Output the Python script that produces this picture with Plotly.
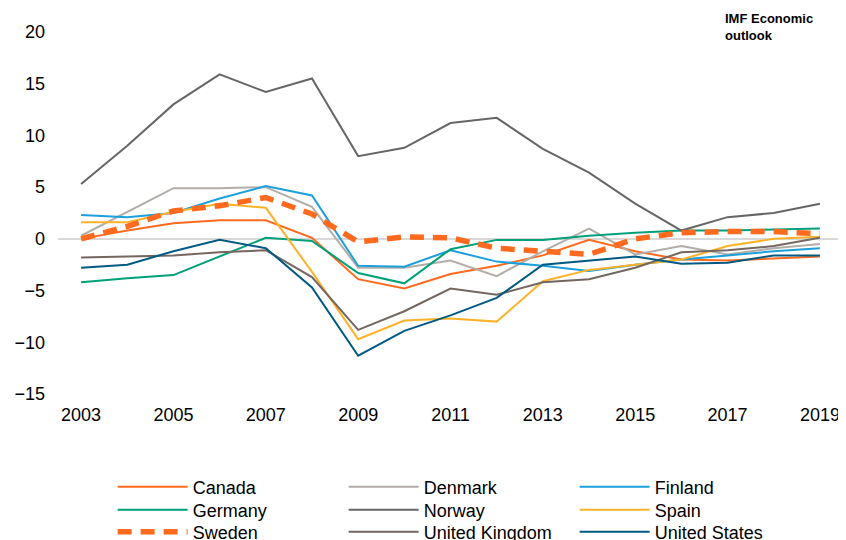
import plotly.graph_objects as go

years = list(range(2003, 2020))
canada = [0.0, 0.8, 1.5, 1.8, 1.8, 0.1, -3.9, -4.8, -3.4, -2.6, -1.6, -0.1, -1.2, -2.0, -2.1, -1.9, -1.7]
denmark = [0.3, 2.6, 4.9, 4.9, 5.0, 3.1, -2.8, -2.8, -2.1, -3.6, -1.2, 1.0, -1.5, -0.7, -1.5, -0.9, -0.5]
finland = [2.3, 2.1, 2.5, 3.9, 5.1, 4.2, -2.6, -2.7, -1.1, -2.2, -2.6, -3.1, -2.5, -2.0, -1.6, -1.2, -0.9]
germany = [-4.2, -3.8, -3.5, -1.7, 0.1, -0.2, -3.3, -4.3, -1.0, -0.1, -0.1, 0.3, 0.6, 0.8, 0.8, 0.9, 1.0]
norway = [5.3, 9.0, 13.0, 15.9, 14.2, 15.5, 8.0, 8.8, 11.2, 11.7, 8.7, 6.4, 3.4, 0.8, 2.1, 2.5, 3.4]
spain = [1.6, 1.6, 2.6, 3.4, 3.0, -3.2, -9.7, -7.9, -7.7, -8.0, -4.1, -3.0, -2.5, -2.0, -0.7, 0.0, 0.2]
sweden = [0.0, 1.2, 2.7, 3.2, 4.0, 2.4, -0.3, 0.2, 0.1, -0.9, -1.2, -1.5, 0.0, 0.6, 0.7, 0.7, 0.5]
uk = [-1.8, -1.7, -1.6, -1.3, -1.1, -3.7, -8.8, -7.0, -4.8, -5.4, -4.2, -3.9, -2.8, -1.3, -1.1, -0.7, 0.1]
us = [-2.8, -2.5, -1.2, -0.1, -0.9, -4.7, -11.3, -8.9, -7.4, -5.7, -2.5, -2.1, -1.7, -2.4, -2.3, -1.6, -1.6]

x_ticks = [2003, 2005, 2007, 2009, 2011, 2013, 2015, 2017, 2019]
y_ticks = [-15, -10, -5, 0, 5, 10, 15, 20]

series = [
    ("Canada", canada, "#FF6A1F", 2, None, "legend"),
    ("Denmark", denmark, "#B3ADA8", 2, None, "legend"),
    ("Finland", finland, "#1BA0DC", 2, None, "legend"),
    ("Germany", germany, "#00A07A", 2, None, "legend2"),
    ("Norway", norway, "#666666", 2, None, "legend2"),
    ("Spain", spain, "#FDB22A", 2, None, "legend2"),
    ("Sweden", sweden, "#FF6A1F", 5.5, "14px,9px", "legend3"),
    ("United Kingdom", uk, "#736760", 2, None, "legend3"),
    ("United States", us, "#005A82", 2, None, "legend3"),
]

fig = go.Figure()
for name, vals, color, width, dash, leg in series:
    line = dict(color=color, width=width)
    if dash:
        line["dash"] = dash
    fig.add_trace(go.Scatter(x=years, y=vals, name=name, mode="lines", line=line, legend=leg))

font_family = "Liberation Sans, Arial, sans-serif"


def legend_row(ycont):
    return dict(
        orientation="h",
        x=0.0696, xanchor="left",
        yref="container", y=ycont, yanchor="middle",
        entrywidth=146,
        itemwidth=70,
        font=dict(size=18, family=font_family, color="#000000"),
        traceorder="normal",
        bgcolor="rgba(0,0,0,0)",
    )


fig.update_layout(
    width=846, height=540,
    margin=dict(l=50, r=11, t=24, b=154),
    paper_bgcolor="white", plot_bgcolor="white",
    font=dict(family=font_family, size=18, color="#000000"),
    showlegend=True,
    legend=legend_row(1 - 479 / 540),
    legend2=legend_row(1 - 502 / 540),
    legend3=legend_row(1 - 524 / 540),
    xaxis=dict(
        range=[2002.5, 2019.5], tickvals=x_ticks, ticktext=[str(t) for t in x_ticks],
        showgrid=False, zeroline=False, showline=False, ticks="",
        ticklabelstandoff=8, automargin=False,
    ),
    yaxis=dict(
        range=[-15, 20], tickvals=y_ticks, showgrid=False,
        zeroline=True, zerolinecolor="#D9D9D9", zerolinewidth=2,
        showline=False, ticks="", ticklabelstandoff=12, automargin=False,
    ),
    annotations=[
        dict(text="<b>IMF Economic<br>outlook</b>", xref="paper", yref="paper",
             x=0.8471, y=1.0635, xanchor="left", yanchor="top",
             showarrow=False, align="left",
             font=dict(size=13, family=font_family, color="#000000")),
    ],
)

fig.write_html("out.html")
